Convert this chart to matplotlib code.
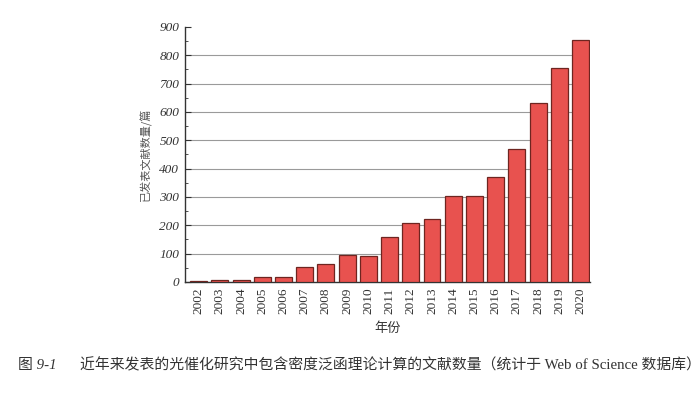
import matplotlib.pyplot as plt
import numpy as np

plt.rcParams['font.family'] = ['Noto Sans CJK SC', 'DejaVu Sans']

years = [str(y) for y in range(2002, 2021)]
counts = [4, 7, 7, 18, 16, 54, 62, 94, 90, 157, 207, 221, 304, 305, 370, 469, 633, 754, 853]

serif = ['Liberation Serif', 'Noto Sans CJK SC']
ink = '#333333'

fig = plt.figure(figsize=(7, 3.96), dpi=100)
ax = fig.add_axes([0.264, 0.288, 0.579, 0.644])

x = np.arange(len(years))
ax.bar(x, counts, width=0.8, color='#e8524f', edgecolor='#6e2520', linewidth=0.9, zorder=3)

ax.set_xlim(-0.65, len(years) - 0.55)
ax.set_ylim(0, 900)
ax.set_yticks(range(0, 901, 100))
ax.set_yticks(range(50, 900, 100), minor=True)
ax.set_xticks(x)
ax.set_xticklabels(years, rotation=90, family=serif, fontsize=9.5, color=ink)
for lab in ax.get_yticklabels():
    lab.set_family(serif)
    lab.set_style('italic')
    lab.set_fontsize(9.5)
    lab.set_color(ink)

ax.tick_params(axis='y', which='both', direction='in', color=ink, pad=4)
ax.tick_params(axis='y', which='major', length=4)
ax.tick_params(axis='y', which='minor', length=2.5)
ax.tick_params(axis='x', length=0, pad=4)

ax.yaxis.grid(True, color='#9a9a9a', linewidth=0.8, zorder=0)
ax.get_ygridlines()[-1].set_visible(False)
ax.get_ygridlines()[0].set_visible(False)

for s in ['top', 'right']:
    ax.spines[s].set_visible(False)
for s in ['left', 'bottom']:
    ax.spines[s].set_color(ink)
    ax.spines[s].set_linewidth(1.0)

ax.set_ylabel('已发表文献数量/篇', fontsize=8, color='#555555', labelpad=5)
ax.set_xlabel('年份', fontsize=9.5, color=ink, labelpad=6)

fig.text(18 / 700, 0.078, '图 9-1', ha='left', va='center', fontsize=10.7,
         color=ink, family=serif, style='italic')
fig.text(80 / 700, 0.078,
         '近年来发表的光催化研究中包含密度泛函理论计算的文献数量（统计于 Web of Science 数据库）',
         ha='left', va='center', fontsize=10.7, color=ink, family=serif)

fig.savefig('out.png', dpi=100)
